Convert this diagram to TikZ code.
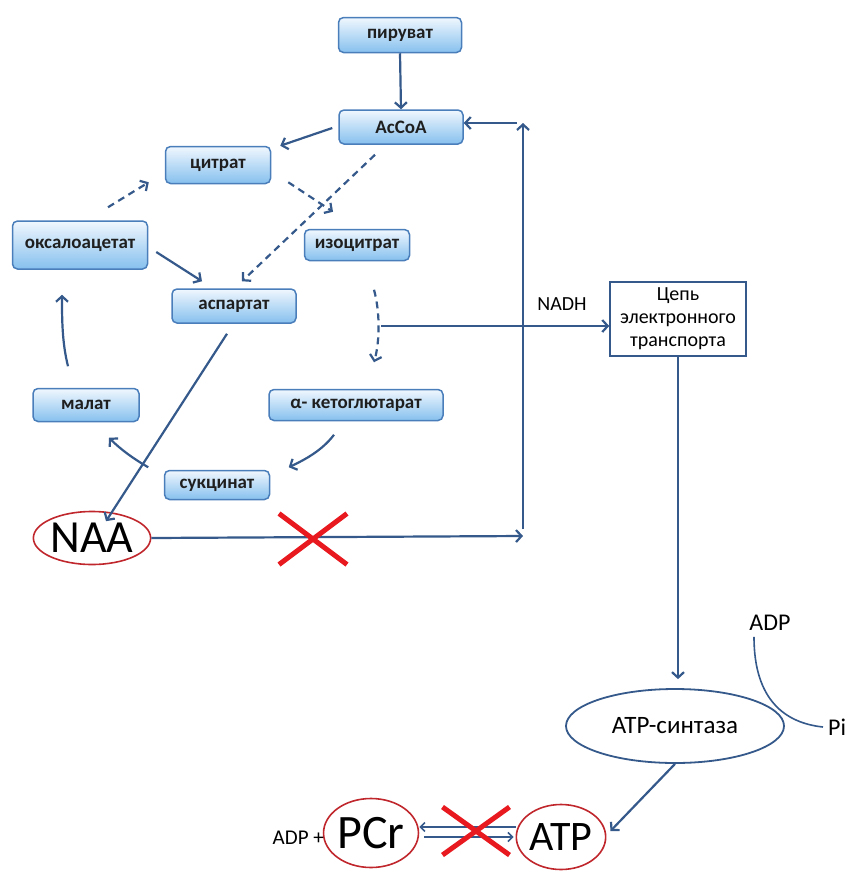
\documentclass[tikz,border=0pt]{standalone}
\usepackage{fontspec}
\setmainfont{Carlito}
\usetikzlibrary{arrows.meta,shapes.misc,shapes.geometric}
\definecolor{ln}{HTML}{34598A}
\definecolor{boxb}{HTML}{4A7EBB}
\definecolor{boxt}{HTML}{F0F7FE}
\definecolor{boxbot}{HTML}{86C0EE}
\definecolor{txt}{HTML}{1F1F1F}
\definecolor{ellred}{HTML}{C0272D}
\definecolor{xred}{HTML}{E8191F}
\newcommand{\fsz}[1]{\fontsize{#1}{#1}\selectfont}
\begin{document}
\begin{tikzpicture}[x=1pt,y=-1pt,
  box/.style={draw=boxb, line width=1.5pt, rounded corners=5pt, top color=boxt, bottom color=boxbot, inner sep=0pt, font=\fsz{19}\bfseries, text=txt},
  redell/.style={ellipse, draw=ellred, line width=1.6pt, inner sep=0pt, text=black},
  arr/.style={draw=ln, line width=2.2pt, -{Straight Barb[length=5.5pt,width=12pt]}},
  arrd/.style={arr, dash pattern=on 7pt off 5pt},
  arrs/.style={draw=ln, line width=1.6pt, -{Straight Barb[length=4.5pt,width=9pt]}},
  lbl/.style={inner sep=1pt, text=black},
  xmark/.style={cross out, draw=xred, line width=5pt, inner sep=0pt}]
\useasboundingbox (0,0) rectangle (853,871);

% boxes
\node[box, minimum width=123, minimum height=35] (pyr) at (400,35) {пируват};
\node[box, minimum width=124, minimum height=34] (acoa) at (401,127) {AcCoA};
\node[box, minimum width=105, minimum height=37] (cit) at (218,165) {цитрат};
\node[box, minimum width=135, minimum height=48] (oxa) at (80,245) {оксалоацетат};
\node[box, minimum width=105, minimum height=31] (iso) at (357,245) {изоцитрат};
\node[box, minimum width=124, minimum height=34] (asp) at (234,306) {аспартат};
\node[box, minimum width=106, minimum height=33] (mal) at (86,405) {малат};
\node[box, minimum width=174, minimum height=31] (akg) at (356,405) {α- кетоглютарат};
\node[box, minimum width=105, minimum height=29] (suc) at (217,485) {сукцинат};

\node[redell, minimum width=112, minimum height=53, font=\fsz{46}] (naa) at (92,538) {NAA};
\node[draw=ln, line width=1.5pt, fill=white, minimum width=136, minimum height=74, inner sep=0pt, align=center, font=\fontsize{20}{23}\selectfont] (etc) at (678,319) {Цепь\\электронного\\транспорта};
\node[ellipse, draw=ln, line width=1.8pt, minimum width=218, minimum height=74, inner sep=0pt, font=\fsz{25}] (syn) at (675,726) {ATP-синтаза};
\node[redell, minimum width=88, minimum height=69, font=\fsz{48}] (pcr) at (371,833) {PCr};
\node[redell, minimum width=87, minimum height=65, font=\fsz{42}] (atp) at (561,837) {ATP};

% labels
\node[lbl, font=\fsz{20}] (nadh) at (562,304) {NADH};
\node[lbl, font=\fsz{24}] (adp) at (770,623) {ADP};
\node[lbl, anchor=west, font=\fsz{24}] (pi) at (827,727) {Pi};
\node[lbl, anchor=east, font=\fsz{21}] (adpplus) at (325,838) {ADP +};

% coordinates
\coordinate (cb) at (523,536);
\coordinate (ct) at (523,123);
\coordinate (nd) at (381,326);

% connectors
\draw[arr] (pyr.south) -- (acoa.north);
\draw[arr] ([shift={(-6,0)}]ct) -- (acoa.east |- ct);
\draw[arr] ([shift={(-6,1)}]acoa.west) -- ([shift={(9,0)}]cit.north east);
\draw[arrd] ([shift={(28,-13)}]oxa.north) -- ([shift={(-16,-2)}]cit.south west);
\draw[arrd] ([shift={(17,-2)}]cit.south east) -- ([shift={(-24,-17)}]iso.north);
\draw[arrd] ([shift={(-26,10)}]acoa.south) -- ([shift={(8,-7)}]asp.north);
\draw[arr] ([shift={(8,7)}]oxa.east) -- ([shift={(-32,-7)}]asp.north);
\draw[arrd] ([shift={(17,28.5)}]iso.south) .. controls +(6,22) and +(6,-22) .. ([shift={(18,-26.5)}]akg.north);
\draw[arr] ([shift={(-22,13.5)}]akg.south) .. controls +(-12,16) and +(15,-7) .. ([shift={(18.5,-2.5)}]suc.north east);
\draw[arr] ([shift={(-15.5,-2.5)}]suc.north west) .. controls +(-14,-8) and +(12,12) .. ([shift={(23,15.5)}]mal.south);
\draw[arr] ([shift={(-18,-21.5)}]mal.north) .. controls +(-6,-24) and +(0,24) .. ([shift={(-18,25)}]oxa.south);
\draw[arr] ([shift={(-7,10)}]asp.south) -- ([shift={(14,10.5)}]naa.north);
\draw[arr] (naa.east) -- (cb);
\draw[arr] ([shift={(0,-7)}]cb) -- (ct);
\draw[arr] (nd) -- (etc.west |- nd);
\draw[arr, shorten >=9pt] (etc.south) -- (etc.south |- syn.north);
\draw[arr] (syn.south) -- ([shift={(4,-6)}]atp.east);
\draw[arrs] ([shift={(0,-10)}]atp.west) -- ([shift={(0,-6)}]pcr.east);
\draw[arrs] ([shift={(5,4)}]pcr.east) -- ([shift={(-2,0)}]atp.west);
\draw[draw=ln, line width=1.6pt] ([shift={(-16,5)}]adp.south) .. controls +(0,63) and +(-38,-4) .. ([shift={(-4,0)}]pi.west);

% red crosses
\node[xmark, minimum width=63, minimum height=46] (x1) at (313,539) {};
\node[xmark, minimum width=62, minimum height=43] (x2) at (476,831) {};
\end{tikzpicture}
\end{document}
